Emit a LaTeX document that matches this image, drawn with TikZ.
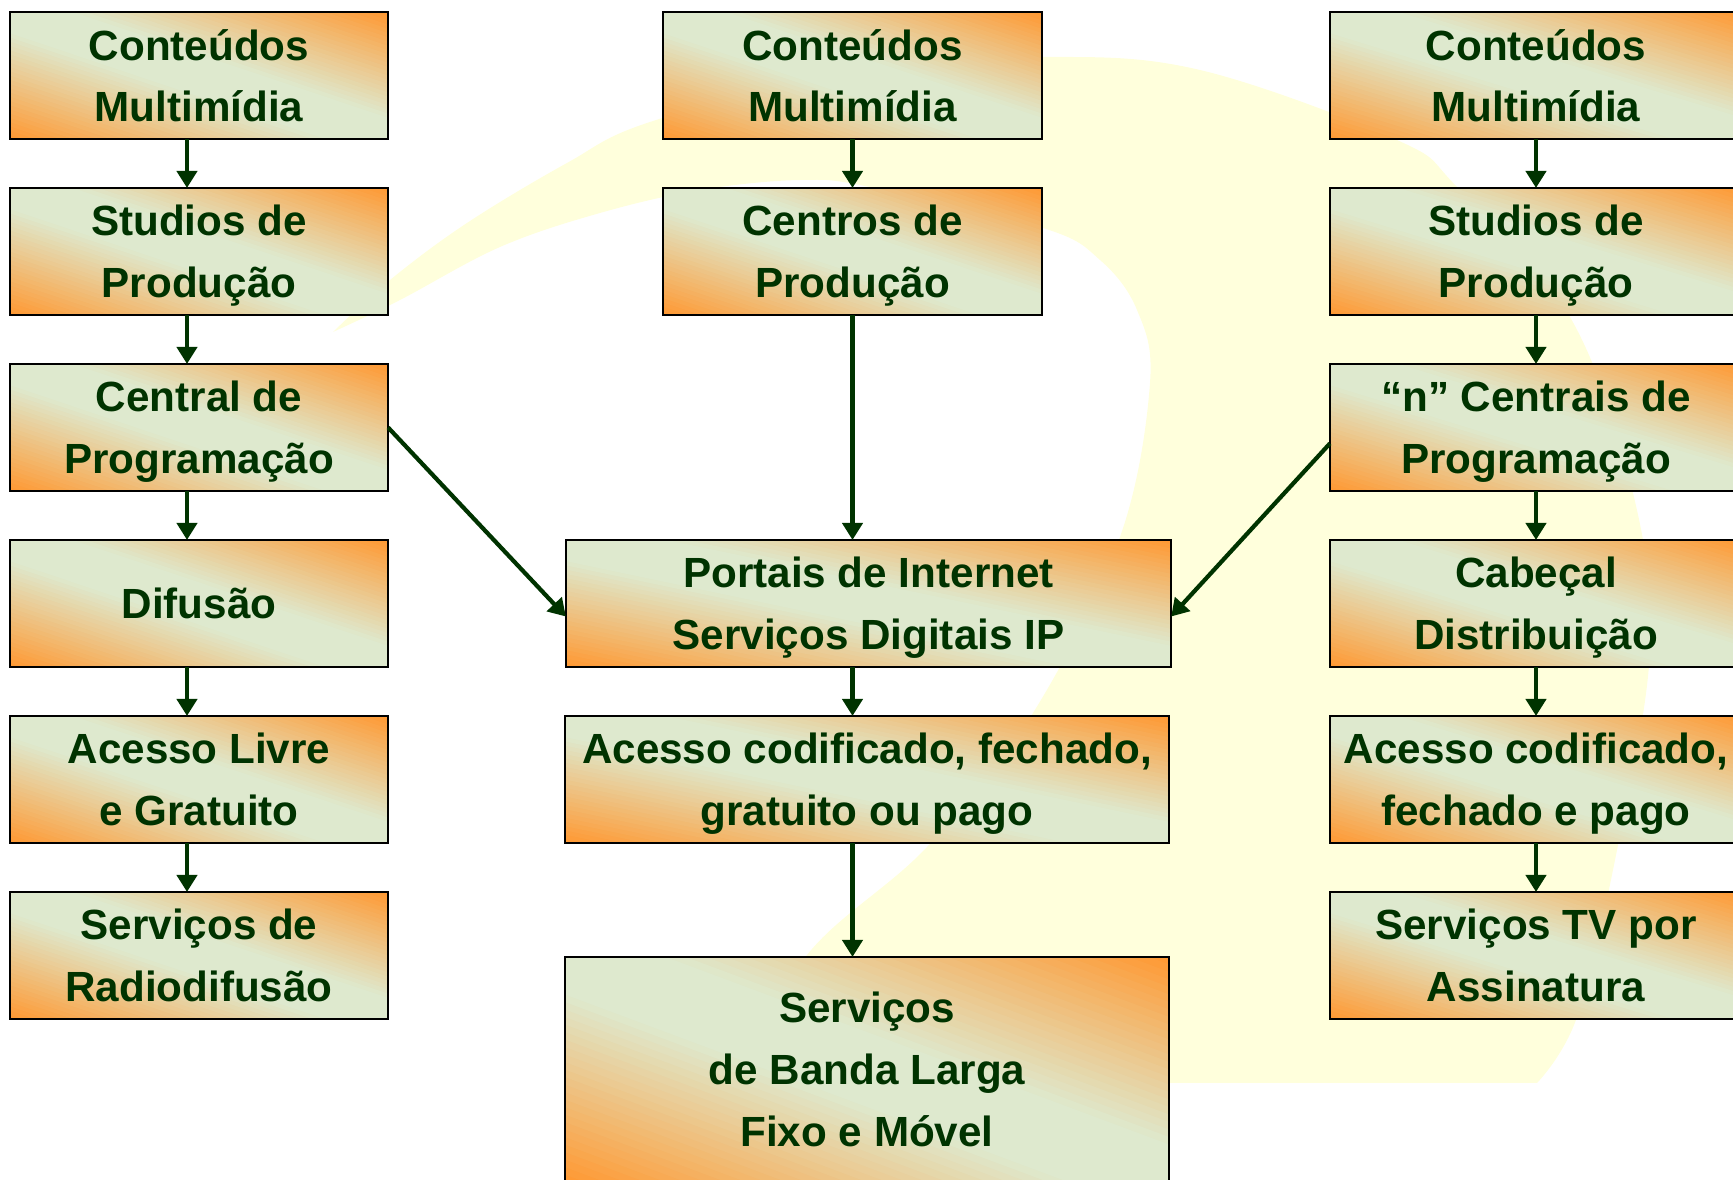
\documentclass[tikz,border=0pt]{standalone}
\usepackage{fontspec}
\setmainfont{Liberation Sans}
\usetikzlibrary{arrows.meta,calc}
\definecolor{laranja}{RGB}{255,153,51}
\definecolor{verdeclaro}{RGB}{222,233,206}
\definecolor{verdeescuro}{RGB}{0,51,0}
\definecolor{amarelo}{RGB}{255,255,220}
\newcommand{\degrade}{%
  \foreach \i in {0,...,29}{
    \pgfmathsetmacro{\s}{2-\i/15}
    \pgfmathtruncatemacro{\pct}{min(100,1.2*(\i+0.5)*100/30)}
    \fill[verdeclaro!\pct!laranja]
      let \p1=(path picture bounding box.center), \p2=(path picture bounding box.north east) in
      ({\x1+(\s+1)*(\x2-\x1)},{\y1-(\y2-\y1)}) -- ({\x1+(\s-1)*(\x2-\x1)},{\y1+(\y2-\y1)})
      -- ({\x1+(-\s-1)*(\x2-\x1)},{\y1+(\y2-\y1)}) -- ({\x1+(-\s+1)*(\x2-\x1)},{\y1-(\y2-\y1)}) -- cycle;
  }}
\begin{document}
\begin{tikzpicture}[x=0.01cm,y=-0.01cm,
            bloco/.style={draw=black,line width=0.6pt,minimum width=3.78cm,minimum height=1.27cm,
              inner sep=0pt,outer sep=0pt,text depth=-0.06cm,path picture={\degrade},
              text=verdeescuro,align=center,font=\fontsize{12pt}{17.6pt}\selectfont\bfseries},
            seta/.style={draw=verdeescuro,line width=1.2pt,-{Triangle[length=0.17cm,width=0.2cm]}}]
            \useasboundingbox (0,0) rectangle (1733,1180);
            \fill[amarelo] plot[smooth,tension=0.6] coordinates {(333,332) (390,280) (467,223) (567,163) (650,122) (850,70) (1043,57) (1200,70) (1397,140) (1457,187) (1570,317) (1633,493) (1650,650) (1617,850) (1577,1017) (1537,1083)}
                -- plot[smooth,tension=0.6] coordinates {(740,1083) (807,955) (927,847) (1033,713) (1120,537) (1150,383) (1137,310) (1100,260) (1043,228) (870,187) (800,180) (700,190) (600,213) (500,247) (400,300) (333,332)} -- cycle;
            \node[bloco] (cont1) at (199,75.5) {Conteúdos\\Multimídia};
            \node[bloco] (stud1) at (199,251.5) {Studios de\\Produção};
            \node[bloco] (centr1) at (199,427.5) {Central de\\Programação};
            \node[bloco] (dif1) at (199,603.5) {Difusão};
            \node[bloco] (livre1) at (199,779.5) {Acesso Livre\\e Gratuito};
            \node[bloco] (radio1) at (199,955.5) {Serviços de\\Radiodifusão};
            \node[bloco,minimum width=3.79cm] (cont2) at (852.5,75.5) {Conteúdos\\Multimídia};
            \node[bloco,minimum width=3.79cm] (centros2) at (852.5,251.5) {Centros de\\Produção};
            \node[bloco,minimum width=6.05cm] (portais) at (868.5,603.5) {Portais de Internet\\Serviços Digitais IP};
            \node[bloco,minimum width=6.04cm] (acesso2) at (867,779.5) {Acesso codificado, fechado,\\gratuito ou pago};
            \node[bloco,minimum width=6.04cm,minimum height=2.25cm] (banda) at (867,1069.5) {Serviços\\de Banda Larga\\Fixo e Móvel};
            \node[bloco,minimum width=4.12cm] (cont3) at (1536,75.5) {Conteúdos\\Multimídia};
            \node[bloco,minimum width=4.12cm] (stud3) at (1536,251.5) {Studios de\\Produção};
            \node[bloco,minimum width=4.12cm] (centr3) at (1536,427.5) {“n” Centrais de\\Programação};
            \node[bloco,minimum width=4.12cm] (cabecal) at (1536,603.5) {Cabeçal\\Distribuição};
            \node[bloco,minimum width=4.12cm] (acesso3) at (1536,779.5) {Acesso codificado,\\fechado e pago};
            \node[bloco,minimum width=4.12cm] (tv3) at (1536,955.5) {Serviços TV por\\Assinatura};
            \draw[seta] ([xshift=-0.12cm]cont1.south) -- ([xshift=-0.12cm]stud1.north);
            \draw[seta] ([xshift=-0.12cm]stud1.south) -- ([xshift=-0.12cm]centr1.north);
            \draw[seta] ([xshift=-0.12cm]centr1.south) -- ([xshift=-0.12cm]dif1.north);
            \draw[seta] ([xshift=-0.12cm]dif1.south) -- ([xshift=-0.12cm]livre1.north);
            \draw[seta] ([xshift=-0.12cm]livre1.south) -- ([xshift=-0.12cm]radio1.north);
            \draw[seta] (cont2.south) -- (centros2.north);
            \draw[seta] (centros2.south) -- (centros2.south |- portais.north);
            \draw[seta] (centros2.south |- portais.south) -- (centros2.south |- acesso2.north);
            \draw[seta] (centros2.south |- acesso2.south) -- (centros2.south |- banda.north);
            \draw[seta] (cont3.south) -- (stud3.north);
            \draw[seta] (stud3.south) -- (centr3.north);
            \draw[seta] (centr3.south) -- (cabecal.north);
            \draw[seta] (cabecal.south) -- (acesso3.north);
            \draw[seta] (acesso3.south) -- (tv3.north);
            \draw[seta] (centr1.east) -- ([yshift=-0.13cm]portais.west);
            \draw[seta] ([yshift=-0.16cm]centr3.west) -- ([yshift=-0.13cm]portais.east);
\end{tikzpicture}
\end{document}
